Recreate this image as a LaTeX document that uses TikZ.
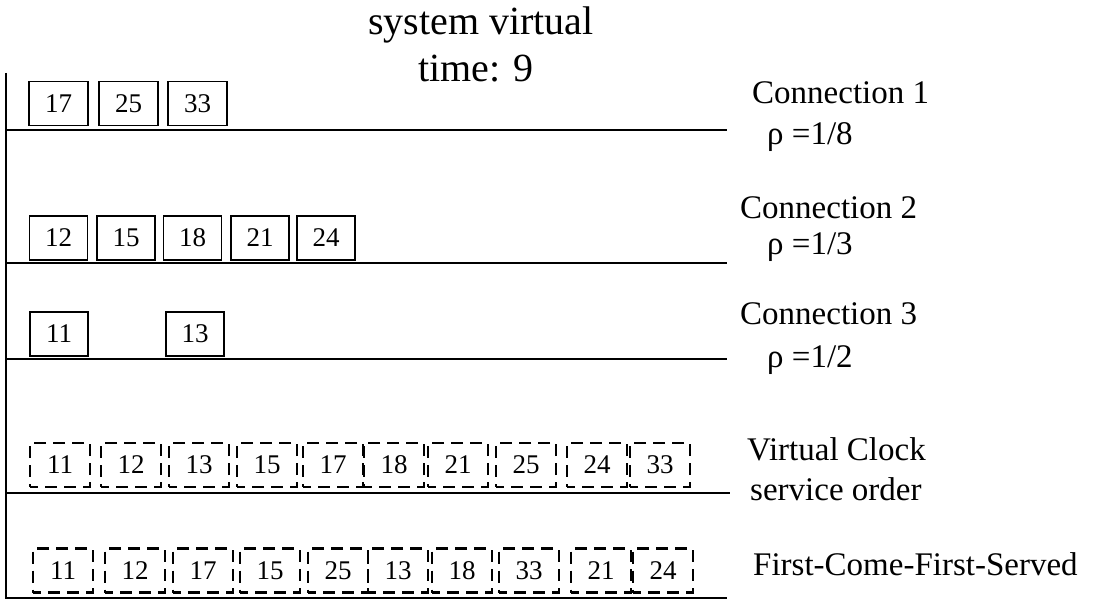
\documentclass[tikz,border=0pt]{standalone}
\usepackage{fontspec}
\setmainfont{Liberation Serif}
\begin{document}
\begin{tikzpicture}[x=1pt,y=-1pt,
  pkt/.style={draw,line width=1.1pt,minimum width=59pt,minimum height=44pt,inner sep=0pt,font=\fontsize{27}{27}\selectfont},
  dpkt/.style={pkt,line width=2.2pt,dash pattern=on 12pt off 7pt,dash phase=4pt,minimum width=60pt},
  lbl/.style={anchor=base west,inner sep=0pt,font=\fontsize{33}{33}\selectfont},
  axis/.style={line width=1.8pt}]
\useasboundingbox (0,0) rectangle (1095,601);

% title
\node[anchor=base,inner sep=0pt,font=\fontsize{40}{40}\selectfont] (title1) at (481,35) {system virtual};
\node[anchor=base,inner sep=0pt,font=\fontsize{40}{40}\selectfont] (title2) at (476,82) {time: 9};

% axis and queue lines
\coordinate (top) at (6,73);
\coordinate (bot) at (6,599);
\draw[axis] (top) -- (bot);
\coordinate (l1a) at (6,130); \coordinate (l1b) at (727,130);
\coordinate (l2a) at (6,263); \coordinate (l2b) at (727,263);
\coordinate (l3a) at (6,359); \coordinate (l3b) at (727,359);
\coordinate (l4a) at (6,493); \coordinate (l4b) at (730,493);
\coordinate (l5a) at (6,598); \coordinate (l5b) at (727,598);
\foreach \a/\b in {l1a/l1b,l2a/l2b,l3a/l3b,l4a/l4b,l5a/l5b}
  \draw[axis] (\a) -- (\b);

% connection 1 queue
\foreach \n/\x in {17/58.5,25/128.5,33/197.5}
  \node[pkt] (c1-\n) at (\x,103.5) {\n};
% connection 2 queue
\foreach \n/\x in {12/58.5,15/126,18/192.5,21/260,24/326}
  \node[pkt,minimum width=58pt] (c2-\n) at (\x,238) {\n};
% connection 3 queue
\foreach \n/\x in {11/59,13/195}
  \node[pkt,minimum width=58pt] (c3-\n) at (\x,334) {\n};

% virtual clock service order
\foreach \n/\x [count=\i] in {11/60,12/131,13/199,15/267,17/333,18/394,21/458,25/526,24/597,33/660}
  \node[dpkt] (vc\i) at (\x,465) {\n};
% first-come-first-served order
\foreach \n/\x [count=\i] in {11/63,12/135,17/203,15/270,25/338,13/398,18/462,33/529,21/601,24/663}
  \node[dpkt] (fc\i) at (\x,570.5) {\n};

% labels
\node[lbl] (n1) at (752,104) {Connection 1};
\node[lbl] (r1) at (767,145) {ρ =1/8};
\node[lbl] (n2) at (740,219) {Connection 2};
\node[lbl] (r2) at (767,255) {ρ =1/3};
\node[lbl] (n3) at (740,325) {Connection 3};
\node[lbl] (r3) at (767,368) {ρ =1/2};
\node[lbl] (vcl) at (747,460) {Virtual Clock};
\node[lbl] (vco) at (750,500) {service order};
\node[lbl] (fcl) at (753,575) {First-Come-First-Served};
\end{tikzpicture}
\end{document}
